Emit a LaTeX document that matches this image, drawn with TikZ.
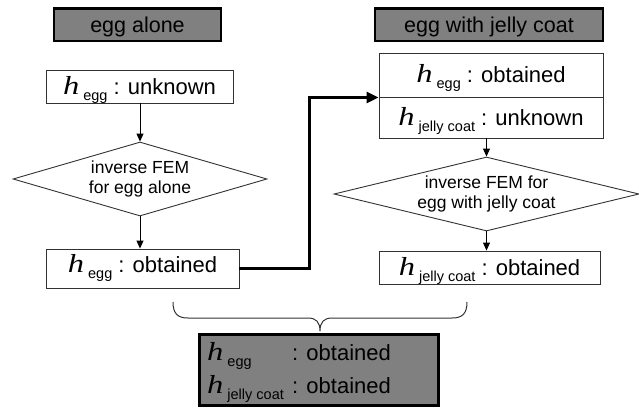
\documentclass[tikz,border=0pt]{standalone}
\usepackage{fontspec}
\setmainfont{Liberation Sans}
\newfontfamily\hserif{Liberation Serif}
\usetikzlibrary{shapes.geometric,arrows.meta}
\definecolor{hdrgray}{RGB}{128,128,128}
\definecolor{linegray}{RGB}{50,50,50}
\newcommand\hsym[1]{{\hserif\itshape\fontsize{26}{26}\selectfont\scalebox{1.25}[1]{h}}\kern4pt\raisebox{-6pt}{\fontsize{14.5}{14.5}\selectfont #1}}
\begin{document}
\begin{tikzpicture}[x=1pt,y=-1pt,
  hdr/.style={draw=black, line width=2.4pt, fill=hdrgray, inner sep=0pt,
    minimum width=#1, minimum height=32.6pt, text height=15.4pt, text depth=0pt,
    font=\fontsize{21.5}{21.5}\selectfont},
  box/.style={draw=linegray, line width=0.9pt, fill=white, inner sep=0pt,
    text height=18pt, text depth=3pt, font=\fontsize{22}{22}\selectfont},
  dia/.style={diamond, draw=linegray, line width=0.9pt, inner sep=0pt, align=center,
    font=\fontsize{17.5}{20.5}\selectfont},
  arr/.style={draw=black, line width=0.9pt, -{Triangle[length=8pt,width=7pt]}},
  bigarr/.style={draw=black, line width=2.6pt, -{Triangle[length=12pt,width=11pt]}},
  brace/.style={draw=linegray, line width=1pt},
  sumtext/.style={anchor=base west, inner sep=0pt, font=\fontsize{22}{22}\selectfont}
]
\useasboundingbox (0,0) rectangle (639,410);

% headers
\node[hdr=166.6pt] (hdrA) at (137.5,24.8) {egg alone};
\node[hdr=227.6pt] (hdrB) at (489,24.8) {egg with jelly coat};

% left column
\node[box, minimum width=187pt, minimum height=33pt] (unkA) at (139.5,86.5) {\hsym{egg} : unknown};
\node[dia, aspect=3.43, minimum width=254pt, minimum height=74pt] (dA) at (140,179) {inverse FEM\\for egg alone};
\node[box, minimum width=193pt, minimum height=39pt, text depth=10pt] (obtA) at (142.5,268.5) {\hsym{egg} : obtained};

% right column
\node[box, minimum width=224pt, minimum height=44pt] (Bt) at (491,75) {\hsym{egg} : obtained};
\node[box, minimum width=224pt, minimum height=41pt] (Bb) at (491,117.5) {\hsym{jelly coat} : unknown};
\node[dia, aspect=4.12, minimum width=305pt, minimum height=74pt] (dB) at (486.5,194) {inverse FEM for\\egg with jelly coat};
\node[box, minimum width=221pt, minimum height=33pt] (obtB) at (489.5,267.5) {\hsym{jelly coat} : obtained};

% connectors
\draw[arr] (unkA.south -| dA.north) -- (dA.north);
\draw[arr] (dA.south) -- (dA.south |- obtA.north);
\draw[arr] (dB.north |- Bb.south) -- (dB.north);
\draw[arr] (dB.south) -- (dB.south |- obtB.north);
\path (obtA.east) ++(70,0) coordinate (bend);
\draw[bigarr] (obtA.east) -- (bend) |- (Bt.south west);

% brace
\coordinate (brL) at (173,302);
\coordinate (brR) at (467,302);
\coordinate (brTip) at (320,331);
\draw[brace] (brL) .. controls (173,314) and (178,318) .. (188,318)
  -- (308,318) .. controls (316,318) and (320,322) .. (brTip)
  .. controls (320,322) and (324,318) .. (332,318)
  -- (452,318) .. controls (462,318) and (467,314) .. (brR);

% summary box
\node[draw=black, line width=3pt, fill=hdrgray, minimum width=239pt, minimum height=71pt, inner sep=0pt] (sum) at (319,370) {};
\node[sumtext] (sum1) at (207,360) {\makebox[85pt][l]{\hsym{egg}}: obtained};
\node[sumtext] (sum2) at (207,393) {\makebox[85pt][l]{\hsym{jelly coat}}: obtained};
\end{tikzpicture}
\end{document}
